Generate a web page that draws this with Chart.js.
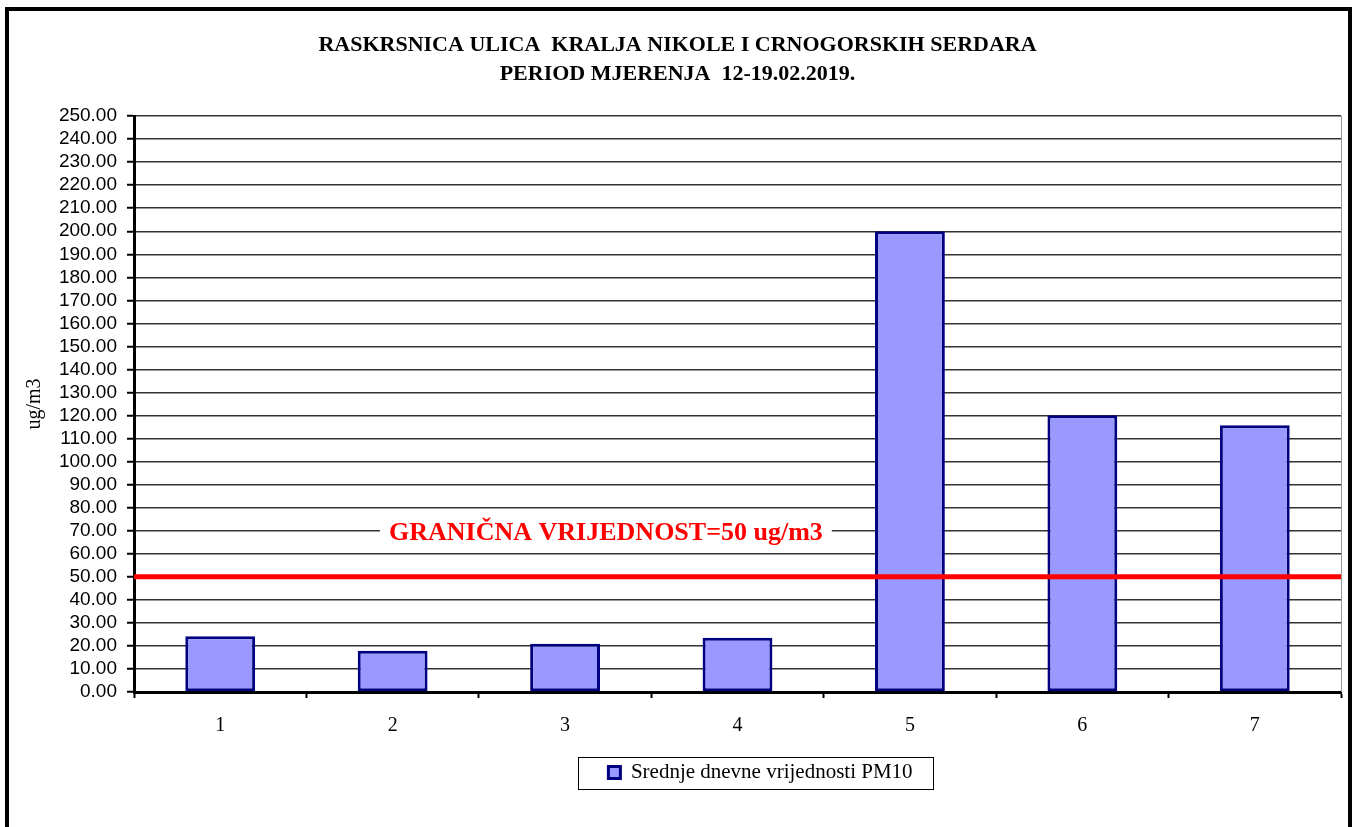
<!DOCTYPE html>
<html lang="sr">
<head>
<meta charset="UTF-8" />
<title>PM10 - Kralja Nikole i Crnogorskih serdara</title>
<script src="https://cdn.jsdelivr.net/npm/chart.js"></script>
<style>
  html,body { margin:0; padding:0; background:#fff; overflow:hidden; }
  #wrap     { width:1355px; height:827px; position:relative; }
</style>
</head>
<body>
<div id="wrap"><canvas id="pm10"></canvas></div>
<script>
  /* ---------- data ---------- */
  const days      = ['1','2','3','4','5','6','7'];
  const pm10Avg   = [24.2, 17.9, 20.9, 23.5, 200.0, 120.1, 115.8];
  const yMin = 0, yMax = 250, yStep = 10;
  const limitVal  = 50;
  const limitText = 'GRANIČNA VRIJEDNOST=50 ug/m3';
  const titleLines = ['RASKRSNICA ULICA  KRALJA NIKOLE I CRNOGORSKIH SERDARA',
                      'PERIOD MJERENJA  12-19.02.2019.'];
  const seriesName = 'Srednje dnevne vrijednosti PM10';

  const serif = "'Liberation Serif','Times New Roman',serif";
  const sans  = "'Liberation Sans',Arial,sans-serif";

  /* ---------- plugins ---------- */
  const frame = {
    id:'frame',
    afterLayout(c){
      // legend sits right of centre in the original
      c.legend.left += 83; c.legend.right += 83;
    },
    beforeDraw(c){
      const g = c.ctx;
      g.save();
      g.fillStyle = '#fff'; g.fillRect(0,0,c.width,c.height);
      g.strokeStyle = '#000'; g.lineWidth = 4;
      g.strokeRect(7, 9, 1343, 900);
      g.restore();
    },
    afterDraw(c){
      const g = c.ctx, a = c.chartArea;
      g.save();
      // right edge of plot area
      g.strokeStyle = '#999'; g.lineWidth = 1;
      g.beginPath(); g.moveTo(a.right+0.5, a.top); g.lineTo(a.right+0.5, a.bottom); g.stroke();
      // box around legend
      const hb = c.legend.legendHitBoxes[0];
      if (hb) {
        g.strokeStyle = '#000'; g.lineWidth = 1;
        g.strokeRect(Math.round(hb.left-30)+0.5, Math.round(hb.top+hb.height/2-16)+0.5,
                     Math.round(hb.width+51), 32);
      }
      g.restore();
    }
  };

  const limitLine = {
    id:'limitLine',
    afterDatasetsDraw(c){
      const g = c.ctx, a = c.chartArea, y = c.scales.y.getPixelForValue(limitVal);
      g.save();
      g.strokeStyle = '#ff0000'; g.lineWidth = 5;
      g.beginPath(); g.moveTo(a.left, y); g.lineTo(a.right, y); g.stroke();

      g.font = 'bold 26px ' + serif;
      const w  = g.measureText(limitText).width;
      const cx = a.left + a.width*0.391, cy = y - 44;
      g.fillStyle = '#fff';
      g.fillRect(cx - w/2 - 9, cy - 14, w + 18, 28);
      g.fillStyle = '#ff0000'; g.textAlign = 'center'; g.textBaseline = 'middle';
      g.fillText(limitText, cx, cy);
      g.restore();
    }
  };

  /* ---------- chart ---------- */
  new Chart(document.getElementById('pm10'), {
    type:'bar',
    data:{
      labels: days,
      datasets:[{
        label: seriesName,
        data: pm10Avg,
        backgroundColor:'#9999ff',
        borderColor:'#000080',
        borderWidth:3,
        borderSkipped:false,
        categoryPercentage:1,
        barPercentage:0.405
      }]
    },
    options:{
      responsive:true, maintainAspectRatio:false, animation:false,
      layout:{ padding:{ top:0, left:14, right:14, bottom:34 } },
      plugins:{
        title:{
          display:true, text:titleLines, color:'#000',
          font:{ family:serif, size:22, weight:'bold', lineHeight:1.32 },
          padding:{ top:31, bottom:27 }
        },
        legend:{
          position:'bottom',
          labels:{ color:'#000', font:{ family:serif, size:21 }, boxWidth:12, boxHeight:12, padding:9 }
        },
        tooltip:{ enabled:false }
      },
      scales:{
        x:{
          grid:{ drawOnChartArea:false, tickLength:6, tickColor:'#000', tickWidth:2 },
          border:{ color:'#000', width:3 },
          ticks:{ color:'#000', padding:16, font:{ family:serif, size:20 } },
          afterFit: s => { s.height = 61; }
        },
        y:{
          min:yMin, max:yMax,
          grid:{ color:'#333', lineWidth:1.5, tickLength:7, tickColor:'#000', tickWidth:2 },
          border:{ color:'#000', width:3 },
          ticks:{ stepSize:yStep, autoSkip:false, color:'#000', padding:10,
                  font:{ family:sans, size:19, lineHeight:1 }, callback: v => v.toFixed(2) },
          title:{ display:true, text:'ug/m3', color:'#000',
                  font:{ family:serif, size:20 }, padding:{ top:9, bottom:0 } },
          afterFit: s => { s.width = 120; }
        }
      }
    },
    plugins:[frame, limitLine]
  });
</script>
</body>
</html>
